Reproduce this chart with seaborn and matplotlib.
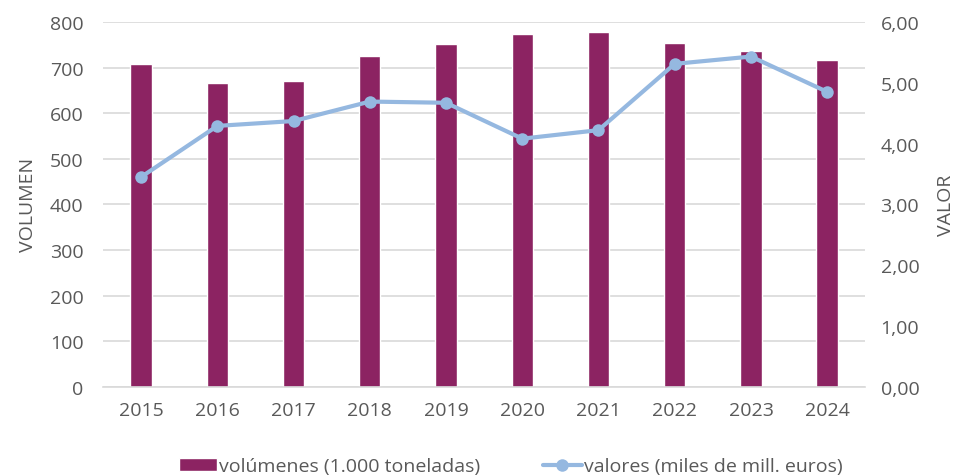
import pandas as pd
import matplotlib.pyplot as plt
import seaborn as sns
from matplotlib.ticker import FuncFormatter, FixedLocator

years = ['2015', '2016', '2017', '2018', '2019', '2020', '2021', '2022', '2023', '2024']
volumenes = [707, 667, 671, 725, 752, 774, 778, 754, 736, 717]
valores = [3.45, 4.29, 4.37, 4.69, 4.67, 4.08, 4.22, 5.31, 5.43, 4.85]

df = pd.DataFrame({'Year': years, 'Volumen': volumenes, 'Valor': valores})

sns.set_style('white')
plt.rcParams['font.family'] = ['Open Sans', 'DejaVu Sans']
txt = '#595959'
grid = '#d9d9d9'
bar_c = '#8c2362'
line_c = '#95b8e0'
fs = 14

fig = plt.figure(figsize=(9.54, 4.77), dpi=100)
ax = fig.add_axes([0.108, 0.187, 0.799, 0.765])

sns.barplot(data=df, x='Year', y='Volumen', color=bar_c, width=0.28,
            saturation=1, ax=ax, label='volúmenes (1.000 toneladas)', zorder=2)
ax.set_ylim(0, 800)
ax.set_yticks(range(0, 801, 100))
ax.yaxis.grid(True, color=grid, lw=1.2, zorder=0)
ax.set_axisbelow(True)

ax2 = ax.twinx()
sns.lineplot(x=list(range(len(years))), y=valores, ax=ax2, color=line_c, lw=3,
             marker='o', markersize=9, markeredgewidth=0,
             label='valores (miles de mill. euros)', legend=False)
ax2.set_ylim(0, 6)
ax2.set_yticks(range(0, 7))
ax2.yaxis.set_major_formatter(FuncFormatter(lambda v, p: f'{v:.2f}'.replace('.', ',')))
ax.set_xlim(-0.5, len(years) - 0.5)

for s in list(ax.spines.values()) + list(ax2.spines.values()):
    s.set_visible(False)
ax.tick_params(axis='y', length=0, labelsize=fs, labelcolor=txt, pad=14)
ax2.tick_params(axis='y', length=0, labelsize=fs, labelcolor=txt, pad=11)
ax.spines['bottom'].set_visible(True)
ax.spines['bottom'].set_color(grid)
ax.spines['bottom'].set_linewidth(1.2)
ax.tick_params(axis='x', length=0, labelsize=fs, labelcolor=txt, pad=10)
ax.xaxis.set_minor_locator(FixedLocator([i - 0.5 for i in range(len(years) + 1)]))
ax.tick_params(axis='x', which='minor', length=6, color=grid, width=1.2)

ax.set_xlabel('')
ax.set_ylabel('VOLUMEN', fontsize=fs, color=txt, labelpad=9)
ax2.set_ylabel('VALOR', fontsize=fs, color=txt, labelpad=13)

h1, l1 = ax.get_legend_handles_labels()
h2, l2 = ax2.get_legend_handles_labels()
if ax.get_legend():
    ax.get_legend().remove()
fig.legend(h1 + h2, l1 + l2, loc='center', bbox_to_anchor=(0.535, 0.02),
           ncol=2, frameon=False, fontsize=fs, labelcolor=txt,
           handlelength=2.0, handletextpad=0.1, columnspacing=3.2)

fig.savefig('out.png', dpi=100)
